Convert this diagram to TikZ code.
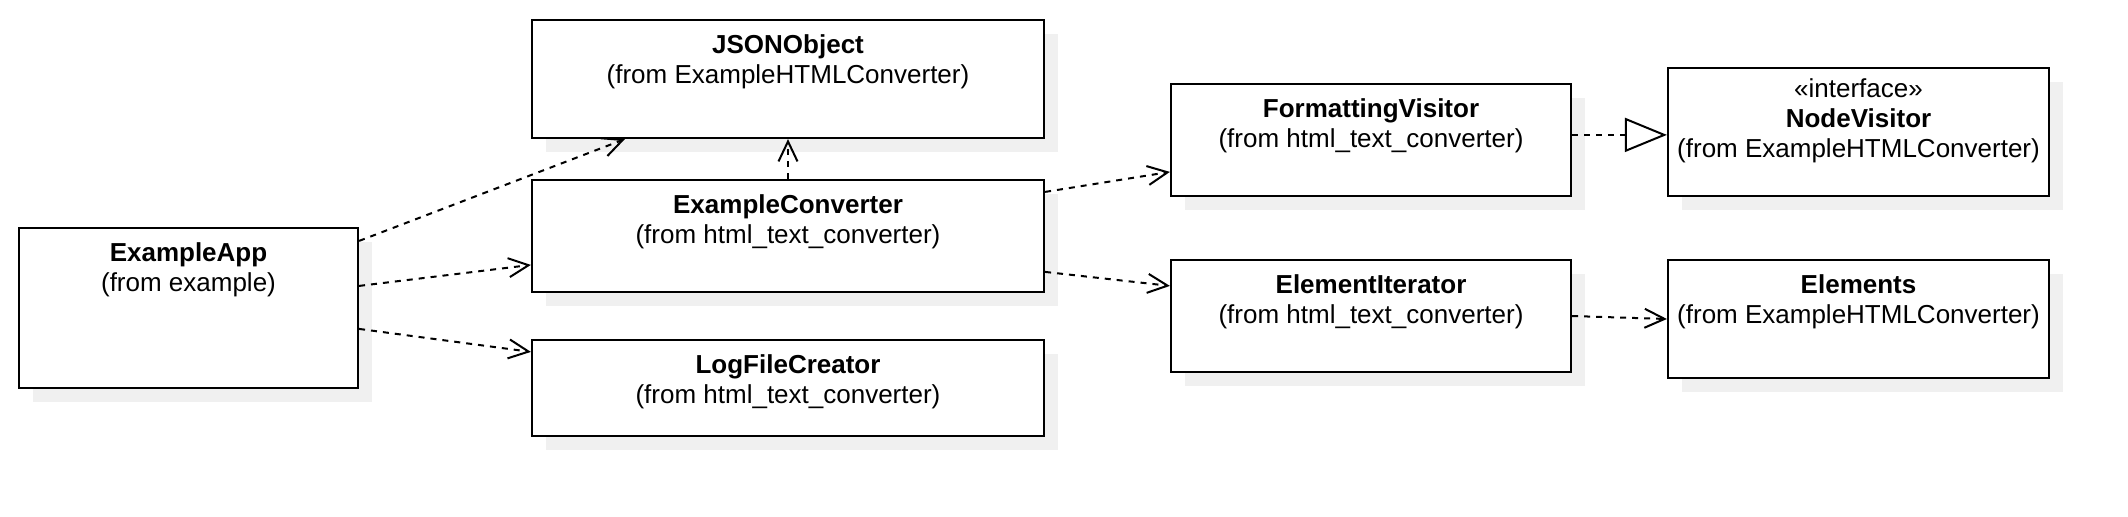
\documentclass[tikz,border=0pt]{standalone}
\usepackage{fontspec}
\setmainfont{Liberation Sans}
\usepackage{tikz}
\usetikzlibrary{arrows.meta,shadows,calc}
\usepackage{xcolor}
\definecolor{umInk}{HTML}{000000}
\definecolor{umShade}{HTML}{F0F0F0}
\tikzset{
  cls/.style={draw=umInk, fill=white, line width=1.1pt, inner sep=0pt,
    general shadow={fill=umShade, shadow xshift=7pt, shadow yshift=-7pt}},
  ttl/.style={anchor=north, inner sep=0pt, align=center, font=\fontsize{13}{15}\selectfont},
  dep/.style={-{Straight Barb[length=10pt, width=9.5pt]}, line width=1pt, dash pattern=on 3pt off 3pt, draw=umInk},
  real/.style={dep, -{Triangle[length=21pt, width=17pt, fill=white]}},
}
\begin{document}
\begin{tikzpicture}[x=0.5pt, y=-0.5pt]
            \path[use as bounding box, fill=white] (0,0) rectangle (2128,516);
            \node[cls, minimum width=169.5pt, minimum height=80pt] (app)  at (188.5,308) {};
            \node[cls, minimum width=256pt,   minimum height=59pt] (json) at (788,79) {};
            \node[cls, minimum width=256pt,   minimum height=56pt] (conv) at (788,236) {};
            \node[cls, minimum width=256pt,   minimum height=48pt] (log)  at (788,388) {};
            \node[cls, minimum width=200pt,   minimum height=56pt] (fmt)  at (1371,140) {};
            \node[cls, minimum width=190.5pt, minimum height=64pt] (nv)   at (1858.5,132) {};
            \node[cls, minimum width=200pt,   minimum height=56pt] (eit)  at (1371,316) {};
            \node[cls, minimum width=190.5pt, minimum height=59pt] (elem) at (1858.5,319) {};
            \node[ttl] (app-t)  at ([yshift=-7.8pt]app.north)  {\textbf{ExampleApp}\\(from example)};
            \node[ttl] (json-t) at ([yshift=-7.8pt]json.north) {\textbf{JSONObject}\\(from ExampleHTMLConverter)};
            \node[ttl] (conv-t) at ([yshift=-7.8pt]conv.north) {\textbf{ExampleConverter}\\(from html\_text\_converter)};
            \node[ttl] (log-t)  at ([yshift=-7.8pt]log.north)  {\textbf{LogFileCreator}\\(from html\_text\_converter)};
            \node[ttl] (fmt-t)  at ([yshift=-7.8pt]fmt.north)  {\textbf{FormattingVisitor}\\(from html\_text\_converter)};
            \node[ttl] (nv-t)   at ([yshift=-5.8pt]nv.north)   {«interface»\\\textbf{NodeVisitor}\\(from ExampleHTMLConverter)};
            \node[ttl] (eit-t)  at ([yshift=-7.8pt]eit.north)  {\textbf{ElementIterator}\\(from html\_text\_converter)};
            \node[ttl] (elem-t) at ([yshift=-7.8pt]elem.north) {\textbf{Elements}\\(from ExampleHTMLConverter)};
            \draw[dep] ([yshift=-7pt]app.north east) -- ([xshift=47pt]json.south west);
            \draw[dep] ([yshift=-29.5pt]app.north east) -- ([yshift=-43pt]conv.north west);
            \draw[dep] ([yshift=-51pt]app.north east) -- ([yshift=-6.5pt]log.north west);
            \draw[dep] (conv.north) -- (json.south);
            \draw[dep] ([yshift=-6.5pt]conv.north east) -- ([yshift=-44.5pt]fmt.north west);
            \draw[dep] ([yshift=-46.5pt]conv.north east) -- ([yshift=-13.5pt]eit.north west);
            \draw[real] ([yshift=-26pt]fmt.north east) -- ([yshift=-34pt]nv.north west);
            \draw[dep] (eit.east) -- (elem.west);
        \end{tikzpicture}
\end{document}
